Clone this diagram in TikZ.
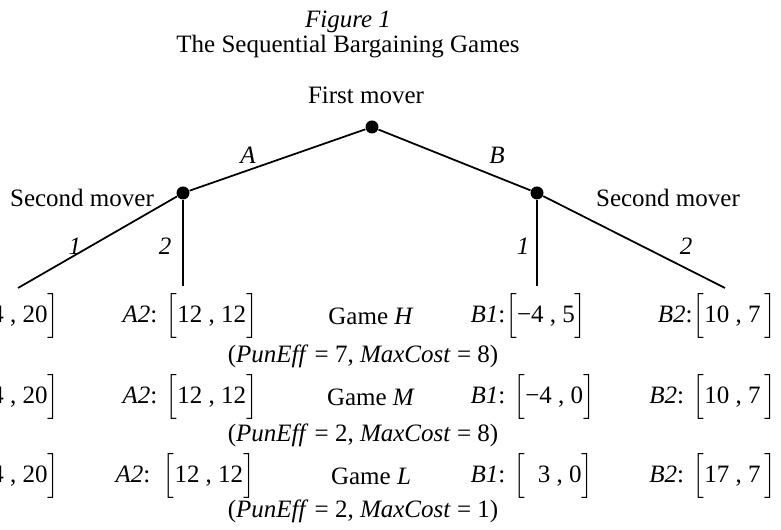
\documentclass[tikz,border=0pt]{standalone}
\usepackage{fontspec}
\setmainfont{Liberation Serif}
\usetikzlibrary{positioning}
\newcommand{\pay}[1]{$\Bigl[$#1$\Bigr]$}
\tikzset{
  mover/.style={circle,fill,inner sep=0pt,minimum size=5.2pt},
  branch/.style={line width=0.7pt},
  lbl/.style={font=\itshape},
  payoff/.style={inner sep=0pt},
}
\begin{document}
\begin{tikzpicture}[x=0.4pt,y=-0.4pt]
  \useasboundingbox (0,0) rectangle (781,530);
  % heading
  \node[lbl] (fig) at (348,22) {Figure 1};
  \node (title) at (348,47) {The Sequential Bargaining Games};
  % tree
  \node (first) at (366,95) {First mover};
  \node[mover] (root) at (372,127) {};
  \node[mover] (ma) at (183,193) {};
  \node[mover] (mb) at (537,193) {};
  \node (seca) at (82,198) {Second mover};
  \node (secb) at (668,198) {Second mover};
  \coordinate (a1) at (18,288);
  \coordinate (a2) at (183,286);
  \coordinate (b1) at (537,286);
  \coordinate (b2) at (725,288);
  \draw[branch] (root) -- (ma);
  \draw[branch] (root) -- (mb);
  \draw[branch] (ma) -- (a1);
  \draw[branch] (ma) -- (a2);
  \draw[branch] (mb) -- (b1);
  \draw[branch] (mb) -- (b2);
  \node[lbl] (la) at (248,155) {A};
  \node[lbl] (lb) at (497,155) {B};
  \node[lbl] (la1) at (75,246) {1};
  \node[lbl] (la2) at (165,246) {2};
  \node[lbl] (lb1) at (523,246) {1};
  \node[lbl] (lb2) at (686,246) {2};
  % game H
  \node[payoff,anchor=east] (h1) at (60,316) {4 , 20$\Bigr]$};
  \node[payoff,anchor=west] (h2) at (122,316) {\textit{A2}: \pay{12 , 12}};
  \node (hg) at (371,316) {Game \textit{H}};
  \node[payoff,anchor=west] (h3) at (470,316) {\textit{B1}:\pay{−4 , 5}};
  \node[payoff,anchor=east] (h4) at (777,316) {\textit{B2}:\pay{10 , 7\,}};
  \node (hp) at (363,356) {(\textit{PunEff} = 7, \textit{MaxCost} = 8)};
  % game M
  \node[payoff,anchor=east] (m1) at (60,397) {4 , 20$\Bigr]$};
  \node[payoff,anchor=west] (m2) at (122,397) {\textit{A2}: \pay{12 , 12}};
  \node (mg) at (371,397) {Game \textit{M}};
  \node[payoff,anchor=west] (m3) at (470,397) {\textit{B1}: \pay{−4 , 0}};
  \node[payoff,anchor=east] (m4) at (777,397) {\textit{B2}: \pay{10 , 7\,}};
  \node (mp) at (363,435) {(\textit{PunEff} = 2, \textit{MaxCost} = 8)};
  % game L
  \node[payoff,anchor=east] (l1) at (60,476) {4 , 20$\Bigr]$};
  \node[payoff,anchor=west] (l2) at (115,476) {\textit{A2}:\ \ \pay{12 , 12}};
  \node (lg) at (371,476) {Game \textit{L}};
  \node[payoff,anchor=west] (l3) at (470,476) {\textit{B1}: \pay{\ \ 3 , 0}};
  \node[payoff,anchor=east] (l4) at (777,476) {\textit{B2}: \pay{17 , 7\,}};
  \node (lp) at (363,511) {(\textit{PunEff} = 2, \textit{MaxCost} = 1)};
\end{tikzpicture}
\end{document}
